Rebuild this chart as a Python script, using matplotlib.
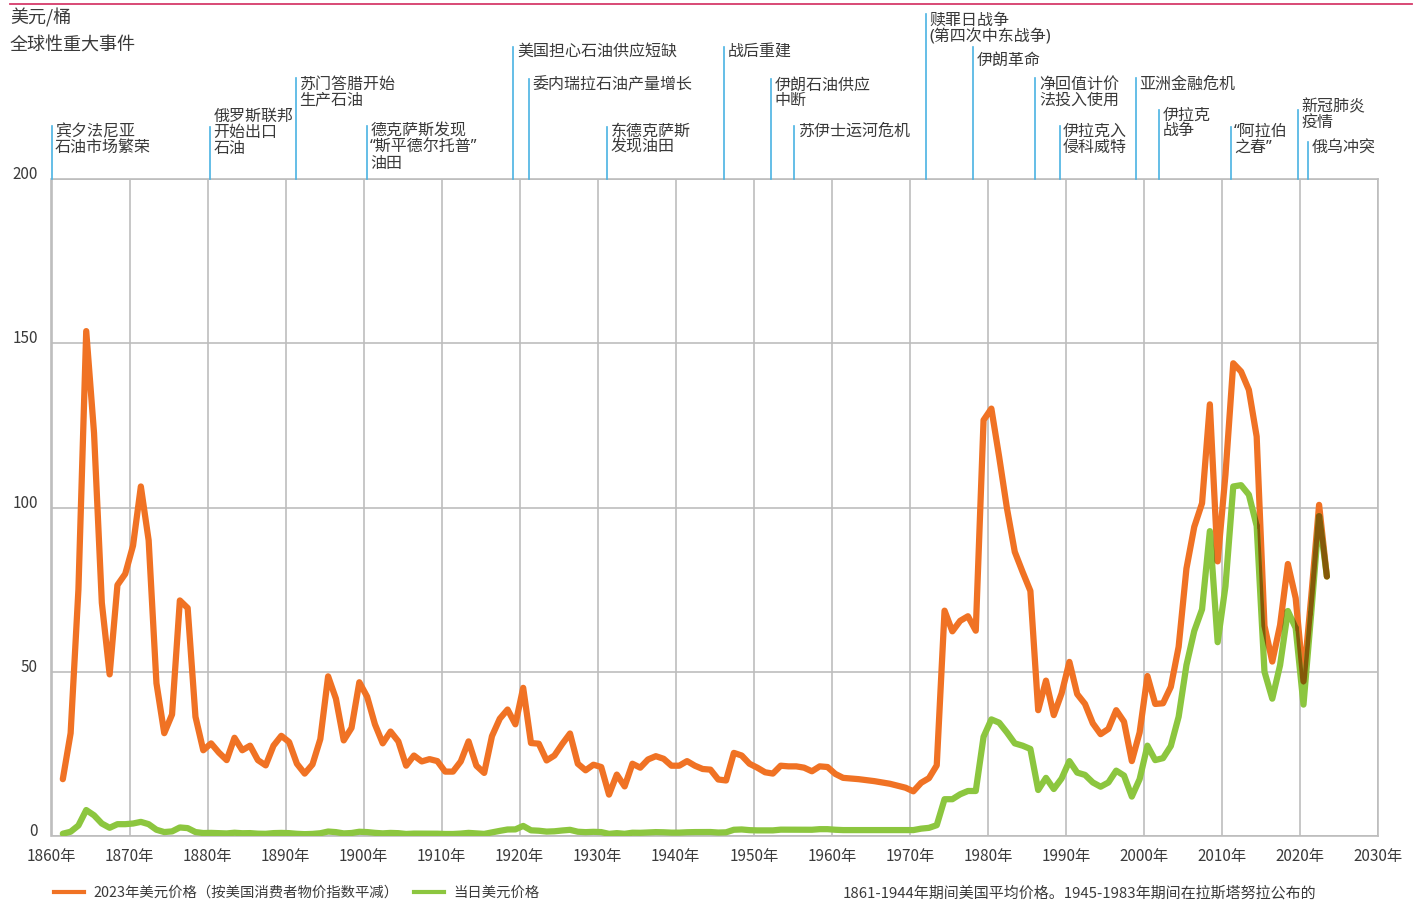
import numpy as np
import matplotlib
matplotlib.use("Agg")
import matplotlib.pyplot as plt
from matplotlib.path import Path
from matplotlib.lines import Line2D
from matplotlib.transforms import IdentityTransform, blended_transform_factory, ScaledTranslation

plt.rcParams['font.family'] = ['Noto Sans CJK SC', 'DejaVu Sans']

# ---------------- data ----------------
years = np.arange(1861, 2024)

price_2023usd = [
    17.3, 31.3, 75.0, 153.7, 122.7, 71.0, 49.2, 76.4, 79.8,            # 1861-1869
    88.4, 106.4, 90.0, 46.5, 31.3, 37.0, 71.7, 69.4, 36.3, 26.1,        # 1870-1879
    28.2, 25.4, 23.1, 29.9, 26.1, 27.5, 23.1, 21.5, 27.5, 30.5,         # 1880-1889
    28.6, 22.0, 19.0, 21.8, 29.5, 48.6, 41.8, 29.1, 32.9, 46.8,         # 1890-1899
    42.4, 34.0, 28.2, 31.8, 28.8, 21.4, 24.5, 22.7, 23.4, 22.8,         # 1900-1909
    19.6, 19.6, 22.7, 28.8, 21.4, 19.2, 30.4, 35.7, 38.5, 34.0,         # 1910-1919
    45.1, 28.3, 28.1, 23.0, 24.5, 28.0, 31.2, 22.0, 20.0, 21.7,         # 1920-1929
    21.0, 12.6, 18.7, 15.1, 22.0, 20.8, 23.3, 24.3, 23.5, 21.4,         # 1930-1939
    21.4, 22.8, 21.4, 20.4, 20.2, 17.2, 16.9, 25.3, 24.5, 22.0,         # 1940-1949
    20.8, 19.4, 19.0, 21.4, 21.2, 21.2, 20.8, 19.7, 21.2, 21.0,         # 1950-1959
    18.9, 17.7, 17.5, 17.3, 17.0, 16.7, 16.3, 15.9, 15.3, 14.7,         # 1960-1969
    13.6, 16.2, 17.6, 21.5, 68.6, 62.3, 65.5, 66.9, 62.5, 126.6,        # 1970-1979
    130.1, 115.4, 99.7, 86.5, 80.4, 74.6, 38.3, 47.3, 36.8, 43.4,       # 1980-1989
    53.0, 43.2, 40.2, 34.3, 31.0, 32.6, 38.3, 34.8, 22.8, 31.5,         # 1990-1999
    48.7, 40.2, 40.4, 45.4, 57.6, 81.4, 94.1, 101.3, 131.4, 83.6,       # 2000-2009
    110.0, 143.9, 141.4, 135.8, 121.6, 64.0, 53.1, 64.2, 82.8, 72.4,    # 2010-2019
    47.1, 73.0, 100.8, 79.0,                                            # 2020-2023
]

price_nominal = [
    0.7, 1.3, 3.2, 7.9, 6.3, 3.8, 2.5, 3.6, 3.6,                        # 1861-1869
    3.8, 4.3, 3.6, 1.9, 1.2, 1.4, 2.6, 2.4, 1.2, 0.9,                   # 1870-1879
    0.95, 0.86, 0.78, 1.0, 0.84, 0.88, 0.71, 0.67, 0.88, 0.94,          # 1880-1889
    0.87, 0.67, 0.56, 0.64, 0.84, 1.36, 1.18, 0.79, 0.91, 1.29,         # 1890-1899
    1.19, 0.96, 0.8, 0.94, 0.86, 0.62, 0.73, 0.72, 0.72, 0.7,           # 1900-1909
    0.61, 0.61, 0.74, 0.95, 0.81, 0.64, 1.1, 1.56, 1.98, 2.01,          # 1910-1919
    3.07, 1.73, 1.61, 1.34, 1.43, 1.68, 1.88, 1.3, 1.17, 1.27,          # 1920-1929
    1.19, 0.65, 0.87, 0.67, 1.0, 0.97, 1.09, 1.18, 1.13, 1.02,          # 1930-1939
    1.02, 1.14, 1.19, 1.2, 1.21, 1.05, 1.12, 1.9, 1.99, 1.78,           # 1940-1949
    1.71, 1.71, 1.71, 1.93, 1.93, 1.93, 1.93, 1.9, 2.08, 2.08,          # 1950-1959
    1.9, 1.8, 1.8, 1.8, 1.8, 1.8, 1.8, 1.8, 1.8, 1.8,                   # 1960-1969
    1.8, 2.24, 2.48, 3.29, 11.2, 11.2, 12.7, 13.7, 13.7, 30.2,          # 1970-1979
    35.5, 34.5, 31.5, 28.2, 27.5, 26.5, 14.0, 17.7, 14.3, 17.5,         # 1980-1989
    22.8, 19.3, 18.6, 16.3, 15.0, 16.3, 19.9, 18.4, 12.0, 17.3,         # 1990-1999
    27.5, 23.1, 23.7, 27.4, 36.3, 52.0, 62.4, 69.0, 92.8, 59.0,         # 2000-2009
    76.0, 106.4, 106.8, 103.9, 94.4, 50.0, 41.8, 52.0, 68.5, 63.3,      # 2010-2019
    40.0, 68.0, 97.3, 79.0,                                             # 2020-2023
]

x_ticks = list(range(1860, 2031, 10))
x_tick_labels = [f"{y}年" for y in x_ticks]
y_ticks = [0, 50, 100, 150, 200]

event_years = [1860.0, 1880.3, 1891.3, 1900.4, 1919.2, 1921.2, 1931.2, 1946.2,
               1952.2, 1955.2, 1972.1, 1978.1, 1986.1, 1989.2, 1999.0, 2001.9,
               2011.1, 2019.7, 2021.0]
event_labels = ['宾夕法尼亚\n石油市场繁荣', '俄罗斯联邦\n开始出口\n石油', '苏门答腊开始\n生产石油',
                '德克萨斯发现\n“斯平德尔托普”\n油田', '美国担心石油供应短缺', '委内瑞拉石油产量增长',
                '东德克萨斯\n发现油田', '战后重建', '伊朗石油供应\n中断', '苏伊士运河危机',
                '赎罪日战争\n(第四次中东战争)', '伊朗革命', '净回值计价\n法投入使用', '伊拉克入\n侵科威特',
                '亚洲金融危机', '伊拉克\n战争', '“阿拉伯\n之春”', '新冠肺炎\n疫情', '俄乌冲突']

# layout of event annotations (pixels from top of figure)
event_line_top_px = [126, 127, 78, 126, 47, 79, 127, 47, 79, 126, 14, 47, 78, 126, 78, 110, 127, 110, 142]
event_text_px = [132, 117.2, 84.5, 132, 52.2, 85.5, 132.2, 52.2, 85.5, 132.2, 21.2, 60.5, 84.5, 132.2, 84.5,
                 115.5, 132.2, 107.2, 148.8]

legend_labels = ['2023年美元价格（按美国消费者物价指数平减）', '当日美元价格']
note_text = '1861-1944年期间美国平均价格。1945-1983年期间在拉斯塔努拉公布的'

# ---------------- style ----------------
ORANGE = '#F07224'
GREEN = '#8CC63F'
BROWN = '#845909'
GRID = '#BDBDBD'
TEXT = '#3A3A3A'
EVENT = '#4AB3E3'
W, H = 1419, 902
MID_YEAR = 0.45
LATIN_FIRST = ['Noto Sans', 'Noto Sans CJK SC', 'DejaVu Sans']

fig = plt.figure(figsize=(W / 100, H / 100), dpi=100)
ax = fig.add_axes([51.5 / W, 1 - 836 / H, (1378 - 51.5) / W, (836 - 179) / H])
ax.set_xlim(1860, 2030)
ax.set_ylim(0, 200)
ax.set_xticks(x_ticks)
ax.set_xticklabels(x_tick_labels)
ax.set_yticks(y_ticks)
ax.set_yticklabels([str(v) for v in y_ticks])
ax.grid(True, color=GRID, lw=1.2)
ax.set_axisbelow(True)
for s in ax.spines.values():
    s.set_color(GRID)
    s.set_linewidth(1.2)
ax.tick_params(axis='both', length=0, labelsize=11, labelcolor=TEXT)
ax.tick_params(axis='y', pad=9.7)
ax.tick_params(axis='x', pad=9)
for lab in ax.get_yticklabels():
    lab.set_verticalalignment('baseline')

LW = 4.5
xs = years + MID_YEAR
ax.plot(xs, price_2023usd, color=ORANGE, lw=LW, solid_joinstyle='round',
        solid_capstyle='round', zorder=3)
ax.plot(xs, price_nominal, color=GREEN, lw=LW, solid_joinstyle='round',
        solid_capstyle='round', zorder=3)

# multiply-style overlap: orange stroke clipped to green stroke -> brown
lw_px = LW * fig.dpi / 72.0
r = lw_px / 2.0
o_disp = ax.transData.transform(np.column_stack([xs, price_2023usd]))
g_disp = ax.transData.transform(np.column_stack([xs, price_nominal]))
t = np.linspace(0, 1, 15)[:, None]
o_dense = np.vstack([o_disp[i] + (o_disp[i + 1] - o_disp[i]) * t for i in range(len(o_disp) - 1)])


def stadium(p0, p1, rad, n=18):
    d = p1 - p0
    th = np.arctan2(d[1], d[0])
    a1 = np.linspace(th - np.pi / 2, th + np.pi / 2, n)
    a0 = np.linspace(th + np.pi / 2, th + 3 * np.pi / 2, n)
    pts = np.vstack([p1 + rad * np.column_stack([np.cos(a1), np.sin(a1)]),
                     p0 + rad * np.column_stack([np.cos(a0), np.sin(a0)])])
    pts = np.vstack([pts, pts[:1]])
    return Path(pts, closed=True)


for i in range(len(g_disp) - 1):
    p0, p1 = g_disp[i], g_disp[i + 1]
    gs = p0 + (p1 - p0) * np.linspace(0, 1, 25)[:, None]
    xmin, xmax = min(p0[0], p1[0]) - lw_px, max(p0[0], p1[0]) + lw_px
    sel = o_dense[(o_dense[:, 0] >= xmin) & (o_dense[:, 0] <= xmax)]
    if len(sel) == 0:
        continue
    dmin = np.min(np.hypot(sel[:, None, 0] - gs[None, :, 0], sel[:, None, 1] - gs[None, :, 1]))
    if dmin < lw_px:
        ln, = ax.plot(xs, price_2023usd, color=BROWN, lw=LW, solid_joinstyle='round',
                      solid_capstyle='round', zorder=4)
        ln.set_clip_path(stadium(p0, p1, r), IdentityTransform())

# events
ev_trans = blended_transform_factory(ax.transData, fig.transFigure)
txt_trans = ev_trans + ScaledTranslation(3.5 / 100, 0, fig.dpi_scale_trans)
for yr, lab, ltop, ttop in zip(event_years, event_labels, event_line_top_px, event_text_px):
    ax.add_line(Line2D([yr, yr], [1 - 179 / H, 1 - ltop / H], transform=ev_trans,
                       color=EVENT, lw=1.2, clip_on=False, zorder=5))
    for k, part in enumerate(lab.split('\n')):
        ax.text(yr, 1 - (ttop + 15.8 * k) / H, part, transform=txt_trans, ha='left', va='center',
                fontsize=11.5, color=TEXT, clip_on=False, family=LATIN_FIRST)

# top rule and headers
fig.add_artist(Line2D([10 / W, 1412 / W], [1 - 4 / H, 1 - 4 / H], color='#D63A6A', lw=1.3))
fig.text(10 / W, 1 - 18 / H, '美元/桶', fontsize=13, color=TEXT, va='center', ha='left')
fig.text(10 / W, 1 - 45 / H, '全球性重大事件', fontsize=13, color=TEXT, va='center', ha='left')

# legend
handles = [Line2D([], [], color=ORANGE, lw=3), Line2D([], [], color=GREEN, lw=3)]
fig.legend(handles, legend_labels, loc='center left', bbox_to_anchor=(54 / W, 1 - 893 / H),
           ncol=2, frameon=False, fontsize=10.35, handlelength=2.1, handletextpad=0.65,
           columnspacing=1.05, borderpad=0, borderaxespad=0, labelcolor=TEXT)
fig.text(843 / W, 1 - 893 / H, note_text, fontsize=10.8, color=TEXT, va='center', ha='left')

fig.savefig('out.png', dpi=100)
